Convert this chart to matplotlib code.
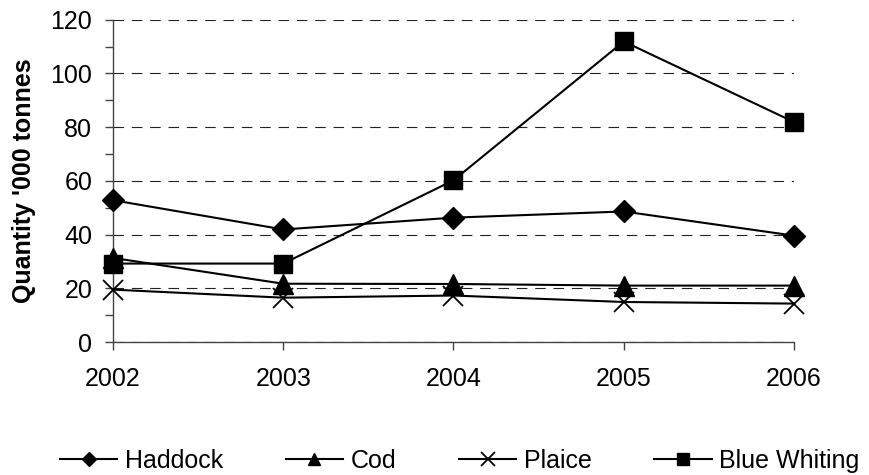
import matplotlib
matplotlib.use("Agg")
import matplotlib.pyplot as plt
from matplotlib.ticker import MultipleLocator

plt.rcParams['font.family'] = ['Liberation Sans', 'DejaVu Sans']

years = ["2002", "2003", "2004", "2005", "2006"]
haddock = [52.8, 41.9, 46.3, 48.6, 39.6]
cod = [31.3, 21.7, 21.6, 21.0, 21.0]
plaice = [19.5, 16.5, 17.3, 14.9, 14.3]
blue_whiting = [29.2, 29.2, 60.2, 111.9, 81.9]

fig = plt.figure(figsize=(8.69, 4.75), dpi=100)
ax = fig.add_axes([0.130, 0.280, 0.7837, 0.6785])

x = list(range(len(years)))
lw = 1.5
kw = dict(color='black', lw=lw, zorder=3, clip_on=False)
ax.plot(x, haddock, marker='D', markersize=11, label='Haddock', **kw)
ax.plot(x, cod, marker='^', markersize=14, label='Cod', **kw)
ax.plot(x, plaice, marker='x', markersize=15, markeredgewidth=1.3, label='Plaice', **kw)
ax.plot(x, blue_whiting, marker='s', markersize=12.5, label='Blue Whiting', **kw)

ax.set_xlim(0, len(years) - 1)
ax.set_ylim(0, 120)
ax.set_xticks(x)
ax.set_xticklabels(years)
ax.yaxis.set_major_locator(MultipleLocator(20))
ax.yaxis.set_minor_locator(MultipleLocator(10))

ax.grid(axis='y', which='major', color='#222222', linestyle=(0, (9.5, 7)), linewidth=0.8)
ax.set_axisbelow(True)
for s in ['top', 'right']:
    ax.spines[s].set_visible(False)
for s in ['left', 'bottom']:
    ax.spines[s].set_color('#444444')
    ax.spines[s].set_linewidth(1.0)

ax.tick_params(axis='y', which='both', direction='out', length=6, width=1, color='#444444', labelsize=18, pad=9)
ax.tick_params(axis='x', which='major', direction='out', length=6, width=1, color='#444444', labelsize=18, pad=12)

ax.set_ylabel("Quantity '000 tonnes", fontsize=18, fontweight='bold', labelpad=10)

fig.legend(loc='center', bbox_to_anchor=(0.529, 0.029), ncol=4, frameon=False,
           fontsize=18, handlelength=2.3, handletextpad=0.3, columnspacing=2.5,
           markerscale=0.65)

fig.savefig("out.png", dpi=100)
